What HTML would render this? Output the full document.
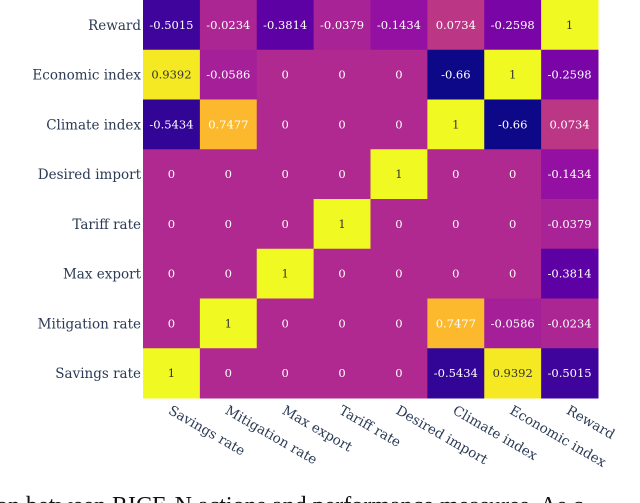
<!DOCTYPE html>
<html><head><meta charset="utf-8"><style>
body{margin:0;background:#fff;width:640px;height:503px;overflow:hidden}
svg{display:block}
text{font-family:"DejaVu Serif","Liberation Serif",serif}
</style></head><body>
<svg id="chart" width="640" height="503" viewBox="0 0 640 503"></svg>
<script>
const rowLabels=["Reward","Economic index","Climate index","Desired import","Tariff rate","Max export","Mitigation rate","Savings rate"];
const colLabels=["Savings rate","Mitigation rate","Max export","Tariff rate","Desired import","Climate index","Economic index","Reward"];
const values=[
[-0.5015,-0.0234,-0.3814,-0.0379,-0.1434,0.0734,-0.2598,1],
[0.9392,-0.0586,0,0,0,-0.66,1,-0.2598],
[-0.5434,0.7477,0,0,0,1,-0.66,0.0734],
[0,0,0,0,1,0,0,-0.1434],
[0,0,0,1,0,0,0,-0.0379],
[0,0,1,0,0,0,0,-0.3814],
[0,1,0,0,0,0.7477,-0.0586,-0.0234],
[1,0,0,0,0,-0.5434,0.9392,-0.5015]];
const vmin=-0.66,vmax=1;
const plasma=["#0d0887","#41049d","#6a00a8","#8f0da4","#b12a90","#cc4778","#e16462","#f2844b","#fca636","#fcce25","#f0f921"];
function hex(h){return [1,3,5].map(i=>parseInt(h.substr(i,2),16));}
function color(v){let t=(v-vmin)/(vmax-vmin);t=Math.max(0,Math.min(1,t));const p=t*10,i=Math.min(9,Math.floor(p)),f=p-i;const a=hex(plasma[i]),b=hex(plasma[i+1]);return "rgb("+a.map((x,k)=>Math.round(x+(b[k]-x)*f)).join(",")+")";}
const X0=143,X1=598,Y0=0,Y1=398;
const cw=(X1-X0)/colLabels.length,ch=(Y1-Y0)/rowLabels.length;
const xs=j=>X0+j*cw, ys=i=>Y0+i*ch;
const svg=document.getElementById('chart');const NS="http://www.w3.org/2000/svg";
function mk(tag,attrs,parent){const e=document.createElementNS(NS,tag);for(const k in attrs)e.setAttribute(k,attrs[k]);(parent||svg).appendChild(e);return e;}
values.forEach((row,i)=>row.forEach((v,j)=>{
 const r=mk('rect',{x:xs(j),y:ys(i),width:cw+0.5,height:ch+0.5,fill:color(v)});
 
 
 const t=mk('text',{x:xs(j)+cw/2,y:ys(i)+ch/2+4,'text-anchor':'middle','font-size':'11.5',fill:v>0.85?'#333':'#fff'});
 t.textContent=String(v);
 
 
}));
rowLabels.forEach((l,i)=>{
 const t=mk('text',{x:X0-2,y:ys(i)+ch/2+5,'text-anchor':'end','font-size':'13.5',fill:'#2b3a55'});
 t.textContent=l;
 
 
});
colLabels.forEach((l,j)=>{
 const x=xs(j)+cw/2-4,y=Y1+15;
 const t=mk('text',{x:x,y:y,'font-size':'13.5',fill:'#2b3a55',transform:`rotate(30 ${x} ${y})`});
 t.textContent=l;
 
 
});
const cap=mk('text',{x:-4,y:513,'font-size':'24',fill:'#111','font-family':'Liberation Serif, serif',style:'font-family:"Liberation Serif",serif'});
cap.textContent="on between RICE-N actions and performance measures. As c";


</script>
</body></html>
